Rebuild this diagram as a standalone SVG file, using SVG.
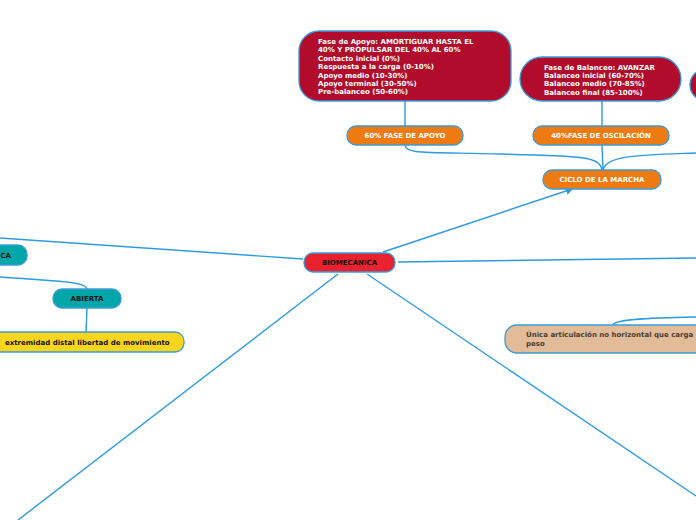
<svg xmlns="http://www.w3.org/2000/svg" width="696" height="520" viewBox="0 0 696 520">
<style>
.n{stroke:#3c9ad8;stroke-width:1.3}
.red{fill:#b10c2b}
.org{fill:#ee7b12}
.teal{fill:#00a6a8}
.t{font-family:"DejaVu Sans",Verdana,sans-serif;font-weight:bold;font-size:7px}
.w{fill:#ffffff}
.k{fill:#111111}
.c{fill:none;stroke:#2b9be0;stroke-width:1.4}
</style>
<defs>
<marker id="ar" markerWidth="8" markerHeight="8" refX="6" refY="4" orient="auto" markerUnits="userSpaceOnUse">
<path d="M0,0 L7,4 L0,8 z" fill="#2b9be0"/>
</marker>
</defs>
<rect width="696" height="520" fill="#ffffff"/>
<g id="connectors">
<path class="c" d="M405,101 L405,126"/>
<path class="c" d="M602,101 L602,126"/>
<path class="c" d="M405,145 C406,154 420,152 500,154 C580,156 600,156 602,170"/>
<path class="c" d="M602,145 L603,170"/>
<path class="c" d="M696,153 C640,155 606,155 603,170"/>
<path class="c" d="M383,252 L572,189" marker-end="url(#ar)"/>
<path class="c" d="M303,259 L0,238"/>
<path class="c" d="M398,262 L696,258"/>
<path class="c" d="M338,274 L18,520"/>
<path class="c" d="M367,274 L696,496"/>
<path class="c" d="M0,277 C50,281 86,281 87,289"/>
<path class="c" d="M87,308 L86,332"/>
<path class="c" d="M696,317 C640,318 614,320 613,325"/>
</g>
<g id="fase-apoyo">
<rect class="n red" x="299" y="31" width="212" height="70" rx="20"/>
<text class="t w" x="318" y="44">Fase de Apoyo: AMORTIGUAR HASTA EL</text>
<text class="t w" x="318" y="52.4">40% Y PROPULSAR DEL 40% AL 60%</text>
<text class="t w" x="318" y="60.8">Contacto inicial (0%)</text>
<text class="t w" x="318" y="69.2">Respuesta a la carga (0-10%)</text>
<text class="t w" x="318" y="77.6">Apoyo medio (10-30%)</text>
<text class="t w" x="318" y="86">Apoyo terminal (30-50%)</text>
<text class="t w" x="318" y="94.4">Pre-balanceo (50-60%)</text>
</g>
<g id="fase-balanceo">
<rect class="n red" x="520" y="57" width="161" height="44" rx="22"/>
<text class="t w" x="544" y="69.5">Fase de Balanceo: AVANZAR</text>
<text class="t w" x="544" y="77.9">Balanceo inicial (60-70%)</text>
<text class="t w" x="544" y="86.3">Balanceo medio (70-85%)</text>
<text class="t w" x="544" y="94.7">Balanceo final (85-100%)</text>
</g>
<g id="red-right">
<rect class="n red" x="690" y="69" width="40" height="32" rx="16"/>
</g>
<g id="apoyo60">
<rect class="n org" x="347" y="126" width="116" height="19" rx="9"/>
<text class="t w" x="405" y="138" text-anchor="middle">60% FASE DE APOYO</text>
</g>
<g id="oscilacion40">
<rect class="n org" x="533" y="126" width="136" height="19" rx="9"/>
<text class="t w" x="601" y="138" text-anchor="middle">40%FASE DE OSCILACIÓN</text>
</g>
<g id="ciclo">
<rect class="n org" x="543" y="170" width="118" height="19" rx="9"/>
<text class="t w" x="602" y="182" text-anchor="middle">CICLO DE LA MARCHA</text>
</g>
<g id="biomecanica">
<rect class="n" fill="#e8232f" x="304" y="253" width="91" height="19" rx="9"/>
<text class="t k" x="349.5" y="265" text-anchor="middle">BIOMECÁNICA</text>
</g>
<g id="teal-left">
<rect class="n teal" x="-40" y="245" width="67" height="20" rx="9"/>
<text class="t k" x="11" y="258" text-anchor="end">CA</text>
</g>
<g id="abierta">
<rect class="n teal" x="53" y="289" width="68" height="19" rx="9"/>
<text class="t k" x="87" y="301" text-anchor="middle">ABIERTA</text>
</g>
<g id="extremidad">
<rect class="n" fill="#fad51e" x="-20" y="332" width="204" height="20" rx="9"/>
<text class="t k" x="5" y="345">extremidad distal libertad de movimiento</text>
</g>
<g id="unica">
<rect class="n" fill="#e2bb99" x="505" y="325" width="220" height="28" rx="12"/>
<text class="t" fill="#4a3c30" x="526" y="337">Única articulación no horizontal que carga</text>
<text class="t" fill="#4a3c30" x="526" y="346">peso</text>
</g>
</svg>
